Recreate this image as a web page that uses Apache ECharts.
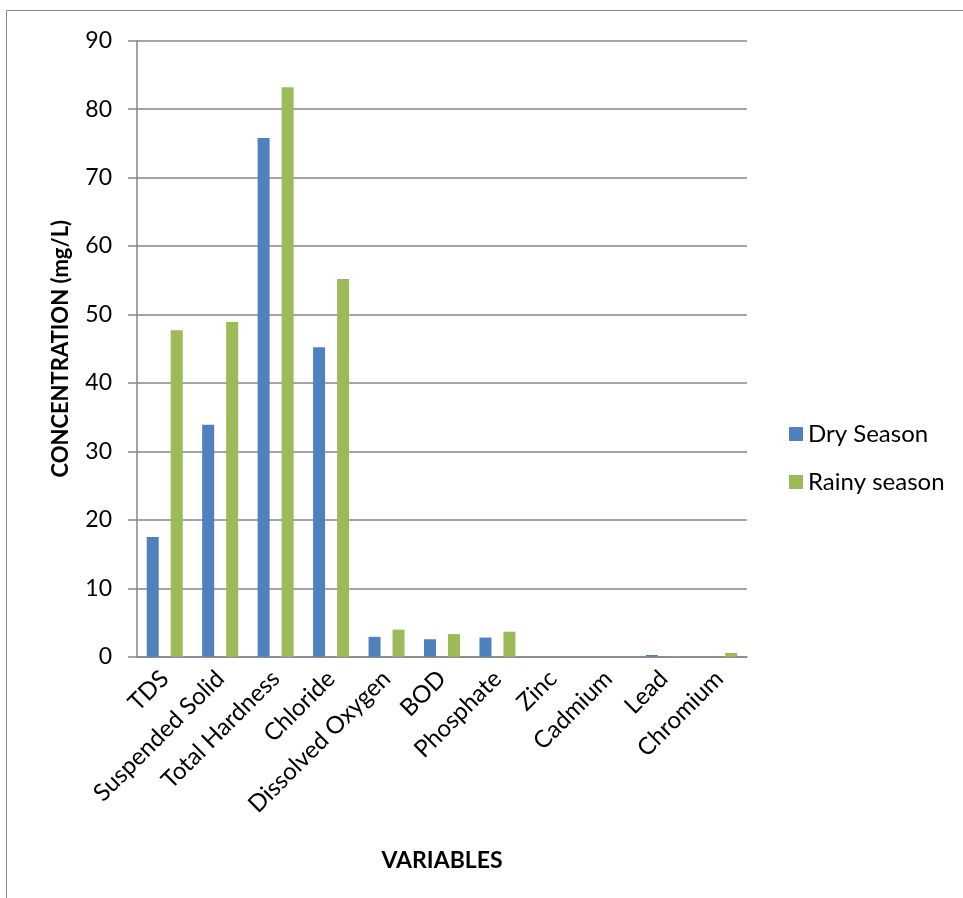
<!DOCTYPE html>
<html>
<head>
<meta charset="utf-8">
<script src="https://cdn.jsdelivr.net/npm/echarts@6/dist/echarts.min.js"></script>
<style>
  html, body { margin: 0; padding: 0; background: #fff; }
  #chart { width: 963px; height: 898px; }
</style>
</head>
<body>
<div id="chart"></div>
<script>
// Water quality variables measured in both seasons (mg/L)
const categories = ['TDS', 'Suspended Solid', 'Total Hardness', 'Chloride', 'Dissolved Oxygen',
  'BOD', 'Phosphate', 'Zinc', 'Cadmium', 'Lead', 'Chromium'];
const drySeason = [17.5, 33.9, 75.8, 45.2, 2.9, 2.55, 2.8, 0, 0, 0.25, 0];
const rainySeason = [47.7, 48.9, 83.2, 55.2, 3.95, 3.3, 3.65, 0, 0, 0.05, 0.55];
const seriesNames = ['Dry Season', 'Rainy season'];

const FONT = 'Lato, "Liberation Sans", sans-serif';
const GREY = '#878787';

const chart = echarts.init(document.getElementById('chart'), null, { renderer: 'canvas' });

chart.setOption({
  animation: false,
  backgroundColor: '#ffffff',
  textStyle: { fontFamily: FONT, color: '#000' },
  graphic: [{
    type: 'rect',
    shape: { x: 6.5, y: 10.5, width: 1000, height: 1000 },
    style: { fill: 'none', stroke: GREY, lineWidth: 1 },
    silent: true,
    z: -1
  }],
  grid: { left: 137, right: 216, top: 40.7, bottom: 241.3, containLabel: false },
  legend: {
    orient: 'vertical',
    left: 789,
    top: 422,
    padding: 0,
    icon: 'rect',
    itemWidth: 14,
    itemHeight: 14,
    itemGap: 24,
    textStyle: { fontFamily: FONT, fontSize: 24, lineHeight: 24, color: '#000' },
    data: seriesNames
  },
  xAxis: {
    type: 'category',
    data: categories,
    name: 'VARIABLES',
    nameLocation: 'middle',
    nameGap: 192,
    nameTextStyle: { fontFamily: FONT, fontSize: 23, fontWeight: 'bold', color: '#000' },
    axisLine: { show: true, lineStyle: { color: GREY, width: 1.5 } },
    axisTick: { show: false },
    axisLabel: { rotate: 45, margin: 18, fontFamily: FONT, fontSize: 24, color: '#000', interval: 0 },
    splitLine: { show: false }
  },
  yAxis: {
    type: 'value',
    min: 0,
    max: 90,
    interval: 10,
    name: 'CONCENTRATION (mg/L)',
    nameLocation: 'middle',
    nameGap: 65,
    nameRotate: 90,
    nameTextStyle: { fontFamily: FONT, fontSize: 22, fontWeight: 'bold', color: '#000' },
    axisLine: { show: true, lineStyle: { color: GREY, width: 1.5 } },
    axisTick: { show: true, inside: false, length: 9, lineStyle: { color: GREY, width: 1.5 } },
    axisLabel: { margin: 25, fontFamily: FONT, fontSize: 23, color: '#000' },
    splitLine: { show: true, lineStyle: { color: GREY, width: 1.5 } }
  },
  series: [
    {
      name: seriesNames[0],
      type: 'bar',
      data: drySeason,
      barWidth: 12,
      barGap: '100%',
      itemStyle: { color: '#4F81BD' }
    },
    {
      name: seriesNames[1],
      type: 'bar',
      data: rainySeason,
      barWidth: 12,
      barGap: '100%',
      itemStyle: { color: '#9BBB59' }
    }
  ]
});
</script>
</body>
</html>
